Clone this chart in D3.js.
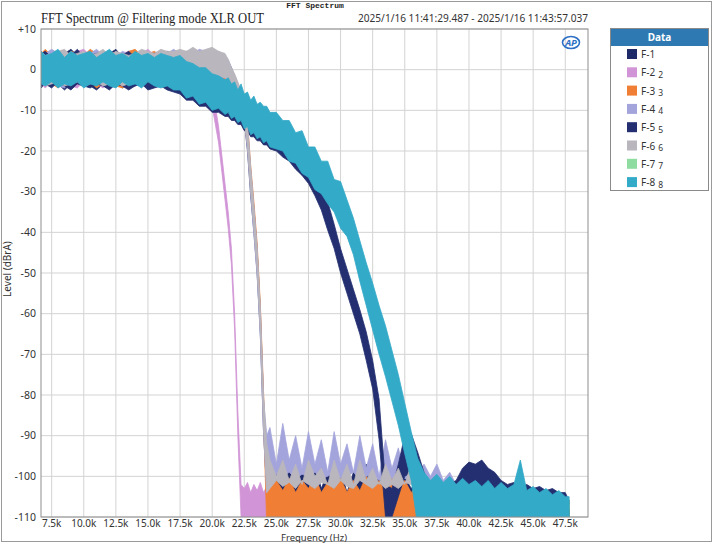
<!DOCTYPE html>
<meta charset="utf-8">
<script src="https://d3js.org/d3.v7.min.js"></script>
<style>
  body { margin: 0; background: #fff; }
  svg { display: block; font-family: "Noto Sans", "DejaVu Sans", sans-serif; }
</style>
<body>
<script>
// shared frequency grid, kHz
var freqKHz = [6.7,7,7.5,8,8.5,9,9.5,10,10.5,11,11.5,12,12.5,13,13.5,14,14.5,15,15.5,16,16.5,17,
  17.5,18,18.5,19,19.5,20,20.5,21,21.25,21.5,21.75,22,22.25,22.5,22.75,23,23.25,23.5,23.75,24,24.25,24.5,
  25,25.5,26,26.5,27,27.5,28,28.5,29,29.5,30,30.5,31,31.5,32,32.5,33,33.5,34,34.5,35,35.5,36,36.5,
  37,37.5,38,38.5,39,39.5,40,40.5,41,41.5,42,42.5,43,43.5,44,44.5,45,45.5,46,46.5,47,47.5,47.8];

// each trace is a noisy band: upper and lower edge in dBrA
var f1Hi = [3.5,4,4.5,3,4,5,3.5,4,3,4.5,3.5,4,5,3,4,3.5,4.5,4,3.5,4,4.5,4,
  4,4.5,3.5,4,4.5,4,3.5,3,2,0.5,-1.5,-3.5,-5.5,-7.5,-14,-25,-34,-44,-59,-81,-96,-98,
  -97,-102,-96,-103,-98,-101,-97,-103,-99,-102,-98,-104,-99,-101,-97,-103,-100,-104,-99,-102,-100,-103,-101,-104,
  -102,-104,-103,-105,-103,-104,-103,-105,-104,-103,-105,-104,-105,-104,-105,-106,-105,-106,-105,-106,-106,-107,-107];
var f1Lo = [-4.5,-3,-4,-3.5,-5,-3.5,-4,-3,-4,-5,-3.5,-4,-3,-4.5,-3.5,-4,-3,-4.5,-3.5,-3,-3.5,-3,
  -2,-2.5,-1.5,-2,-2.5,-2,-2.5,-2.5,-3,-4.5,-6.5,-8.5,-10.5,-12.5,-20,-31,-40,-50,-65,-89,-104,-105,
  -106,-105,-107,-105,-106,-108,-105,-106,-107,-105,-106,-108,-105,-106,-107,-106,-105,-108,-106,-107,-105,-106,-107,-108,
  -110,-110,-110,-110,-110,-110,-110,-110,-110,-110,-110,-110,-110,-110,-110,-110,-110,-110,-110,-110,-110,-110,-110];

var f2Hi = [4,3.5,4.5,3,4,3.5,4.5,5,3.5,4,3,4.5,3.5,4,4.5,3,4,5,3.5,4,3.5,4.5,
  3.5,4,3,2.5,1,-4,-14,-28,-35,-44,-60,-84,-102,-103,-101.5,-104,-102,-103.5,-101.5,-104,-102.5,-103,
  -103];
var f2Lo = [-3.5,-4.5,-3,-4,-3.5,-4,-4.5,-3,-4,-3.5,-4.5,-3,-4,-3.5,-3,-4,-3.5,-4,-3,-3.5,-3,-3.5,
  -2.5,-3,-2.5,-3,-4,-9,-18,-32,-39,-48,-64,-90,-110,-110,-110,-110,-110,-110,-110,-110,-110,-110,
  -110];

var f3Hi = [4,5,3.5,4,3,4.5,4,3.5,5,4,3,4.5,4,3.5,4.5,5,3.5,4,4.5,3.5,4,4.5,
  4.5,4,5,4.5,4,4.5,4,3,2,0,-2,-4,-6,-8,-12.5,-23.5,-32.5,-42.5,-57.5,-79,-101,-102,
  -101,-103.5,-100.5,-104,-101,-103,-100,-104,-101.5,-103,-100.5,-104,-101,-103.5,-100,-103,-101,-104,-100.5,-103,-101,-104,-102,-104,
  -102,-104,-102.5,-104,-103,-104.5,-103,-104,-103,-105,-103.5,-104.5,-103,-105,-104,-105,-104,-105.5,-104,-105,-104.5,-105.5,-106];
var f3Lo = [-3,-4,-3.5,-4.5,-3,-4,-3.5,-4,-3,-4.5,-3.5,-3,-4,-4.5,-3.5,-3,-4,-3,-2.5,-3,-2.5,-3,
  -1.5,-2,-1.5,-2,-1,-2,-2,-2.5,-3.5,-5,-7,-9,-11,-13,-18,-29,-38,-48,-63,-86,-112,-112,
  -112,-112,-112,-112,-112,-112,-112,-112,-112,-112,-112,-112,-112,-112,-112,-112,-112,-112,-112,-112,-112,-112,-112,-112,
  -112,-112,-112,-112,-112,-112,-112,-112,-112,-112,-112,-112,-112,-112,-112,-112,-112,-112,-112,-112,-112,-112,-112];

var f4Hi = [3.5,4,5,4,3.5,4,4.5,3,4,5,3.5,4,3,4.5,4,3.5,4,3,4,4.5,4,5,
  4,4.5,4,5,4.5,4,4.5,3.5,2.5,0.5,-1.5,-3.5,-5.5,-7.5,-13.5,-24.5,-34,-44,-59.5,-81,-90,-88,
  -97,-87,-96,-90,-98,-89,-97,-91,-99,-89,-97,-92,-99,-90,-98,-92,-100,-91,-98,-93,-100,-94,-99,-97,
  -100,-97,-101,-99,-102,-100,-102,-101,-103,-101,-103,-102,-104,-103,-104,-103,-105,-104,-105,-104,-106,-105,-106];
var f4Lo = [-4,-3.5,-3,-4,-4.5,-3,-3.5,-4,-3,-3.5,-4,-4.5,-3,-3.5,-4,-3,-3.5,-4,-3,-3.5,-2.5,-3,
  -2,-1.5,-2,-1.5,-2,-1.5,-2,-2,-3,-4.5,-6.5,-8.5,-10.5,-12.5,-19.5,-30.5,-40.5,-50.5,-65.5,-89,-104,-101,
  -99.5,-100,-99,-100.5,-99.5,-100,-99,-100.5,-100,-99,-100.5,-100,-99,-100.5,-100,-99.5,-101,-100,-100.5,-101,-100.5,-101,-101,-102,
  -106,-106,-106,-106,-106,-106,-106,-106,-106,-106,-106,-106,-106,-106,-106,-106,-106,-106,-106,-106,-106,-106,-106];

var f5Hi = [4,4.5,3,3.5,4,3.5,5,3,3.5,4,4.5,3,4,3.5,4.5,3,4,3.5,4,3,3.5,3.5,
  2,1.5,0.5,0,-1,-1.5,-2.5,-3,-3.5,-4,-4.5,-5.5,-5.5,-6.5,-7,-8,-8.5,-9,-9.5,-10,-10.5,-11.5,
  -13,-14,-15.5,-16.5,-18,-20,-23,-27.5,-32.5,-38,-44,-49,-54,-59,-64.5,-71.5,-81,-102,-103,-97,-90,-89.5,-94,-99,
  -103,-104,-103,-102,-101,-98,-96.5,-97,-96,-98,-99,-101,-102,-101.5,-102.5,-102,-103,-102.5,-103.5,-103,-104,-104,-106];
var f5Lo = [-4,-3.5,-4.5,-3,-4,-5,-3.5,-4,-4.5,-3.5,-4,-5,-3.5,-4,-5,-4,-3.5,-5,-4.5,-4,-5,-5.5,
  -6,-7.5,-7.5,-9,-9,-10.5,-10.5,-11.5,-11.5,-12.5,-12.5,-13.5,-13.5,-15,-15,-16.5,-16.5,-17.5,-17.5,-18.5,-18.5,-19.5,
  -20,-21.5,-22.5,-24.5,-26,-28,-31,-34.5,-39.5,-44,-50,-55,-60,-65,-71.5,-78.5,-91,-110,-110,-105,-100,-99,-103,-106,
  -109,-110,-110,-109,-108,-105,-103,-104,-103,-105,-106,-108,-109,-109,-110,-110,-110,-110,-110,-110,-110,-110,-110];

var f6Hi = [4.5,3.5,4,4.5,5,3.5,4,4.5,3.5,4,5,3.5,4.5,4,3.5,4,5,4.5,4,5,4.5,4.5,
  5,4.5,5.5,4.5,5,5.5,4.5,4,2.5,0.5,-1,-3,-5,-7,-13,-24,-33.5,-43.5,-58.5,-80,-92,-96,
  -100,-96,-101,-97,-102,-96,-100,-98,-102,-96,-101,-97,-102,-96,-101,-98,-102,-97,-101,-98,-102,-97,-102,-100,
  -101,-103,-102,-104,-102,-103,-103,-104,-103,-104,-104,-105,-104,-105,-104,-105,-105,-106,-105,-106,-106,-106,-107];
var f6Lo = [-3,-4,-3.5,-3,-4,-3.5,-3,-4,-3.5,-3,-4,-3.5,-3,-4,-3.5,-2.5,-3,-2.5,-2,-2.5,-2,-2,
  -1,-1.5,-1,-1.5,-1,-1.5,-1.5,-2,-3,-4.5,-6.5,-8.5,-10.5,-12.5,-19,-30,-39.5,-49.5,-64.5,-88,-104,-103,
  -101,-102.5,-101.5,-103,-101,-102,-103,-101.5,-102,-103,-101,-102.5,-103,-101,-102,-103,-101.5,-103,-102,-103,-101.5,-102,-103,-103,
  -108,-108,-108,-108,-108,-108,-108,-108,-108,-108,-108,-108,-108,-108,-108,-108,-108,-108,-108,-108,-108,-108,-108];

var f7Hi = [3,3,3,3.5,2.5,3,3,3,3.5,2.5,3,3.5,3,3,2.5,3,3,3,2.5,3,3,2.5,
  2,1.5,0.5,0,-1,-1.5,-2.5,-3,-3.5,-4,-4.5,-5,-5.5,-6.5,-7,-8,-8.5,-9,-9.5,-10,-10.5,-11,
  -12,-13.5,-14.5,-16,-17.5,-19.5,-21.5,-23,-25,-27.5,-30,-33,-38,-44,-50,-55,-61,-66,-72,-78,-85,-92,-99,-102,
  -103,-104,-103,-104,-103,-104,-104,-104,-104,-104,-105,-104,-105,-104,-105,-105,-105,-106,-105,-106,-106,-106,-106];
var f7Lo = [-3,-3,-2.5,-3.5,-3,-3,-2.5,-3.5,-3,-3,-2.5,-3,-3.5,-2.5,-3,-3,-3.5,-2.5,-3,-3.5,-3,-4,
  -4.5,-5.5,-6,-7,-7.5,-8.5,-9,-9.5,-10,-10.5,-11,-11.5,-12,-13,-13.5,-14.5,-15,-15.5,-16,-16.5,-17,-17.5,
  -18,-19.5,-20.5,-22,-23.5,-25.5,-27.5,-29,-31,-33.5,-36,-39,-44,-50,-56,-62,-67,-72,-78,-84,-91,-98,-105,-108,
  -110,-110,-110,-110,-110,-110,-110,-110,-110,-110,-110,-110,-110,-110,-110,-110,-110,-110,-110,-110,-110,-110,-110];

var f8Hi = [4.5,3.5,4,5,3,4.5,3.5,4,4.5,3,4,5,3.5,4,3,4.5,3.5,4,3,4,3.5,3,
  3.5,2,1.5,0.5,0.5,-1,-1.5,-2.5,-2,-3.5,-3,-5,-3.5,-6,-5.5,-7.5,-6.5,-8.5,-8,-9,-9,-10.5,
  -10.5,-12.5,-12.5,-15.5,-15,-19,-19,-22.5,-22.5,-27,-27.5,-32,-36.5,-42,-47.5,-52.5,-58,-63,-69,-75,-82,-89,-95.5,-99,
  -101,-99.5,-101.5,-100,-102,-100.5,-102,-101,-102.5,-101,-103,-101.5,-103,-102,-96,-103.5,-102.5,-104,-103,-104.5,-103.5,-105,-105];
var f8Lo = [-3.5,-4,-3,-4.5,-3.5,-4,-3,-4.5,-3.5,-4,-3,-4,-4.5,-3,-4,-3.5,-4.5,-3,-4,-4.5,-4,-5,
  -5,-7,-6.5,-8.5,-8,-10,-9.5,-11,-10.5,-12,-11.5,-13,-12.5,-14.5,-14,-16,-15.5,-17,-16.5,-18,-17.5,-19,
  -19.5,-20,-22.5,-23,-25.5,-26.5,-29.5,-30.5,-33,-35,-39,-41,-45.5,-52,-58,-64,-70,-75.5,-81.5,-87.5,-94.5,-101,-112,-112,
  -112,-112,-112,-112,-112,-112,-112,-112,-112,-112,-112,-112,-112,-112,-112,-112,-112,-112,-112,-112,-112,-112,-112];

var seriesNames = ["F-1", "F-2", "F-3", "F-4", "F-5", "F-6", "F-7", "F-8"];
var seriesTags = ["", "2", "3", "4", "5", "6", "7", "8"];
var seriesColors = ["#1f2b69", "#d194d6", "#f07f35", "#a3a4dc", "#232f70", "#bab6bd", "#8fdca0", "#33aac8"];
var xTicks = [7.5, 10, 12.5, 15, 17.5, 20, 22.5, 25, 27.5, 30, 32.5, 35, 37.5, 40, 42.5, 45, 47.5];
var yTicks = [10, 0, -10, -20, -30, -40, -50, -60, -70, -80, -90, -100, -110];

var bands = [[f1Hi, f1Lo], [f2Hi, f2Lo], [f3Hi, f3Lo], [f4Hi, f4Lo],
             [f5Hi, f5Lo], [f6Hi, f6Lo], [f7Hi, f7Lo], [f8Hi, f8Lo]];

var W = 713, H = 544;
var L = 41, R = 588, T = 29, B = 517;

var svg = d3.select("body").append("svg")
  .attr("width", W)
  .attr("height", H);

// outer frame
svg.append("rect")
  .attr("x", 1.5).attr("y", 1.5)
  .attr("width", 710).attr("height", 540)
  .attr("fill", "#fff")
  .attr("stroke", "#9a9a9a");

var x = d3.scaleLinear().domain([6.67, 49.27]).range([L, R]);
var y = d3.scaleLinear().domain([-110, 10]).range([B, T]);

// grid
svg.append("g").selectAll("line")
  .data(xTicks).enter().append("line")
  .attr("x1", d => x(d)).attr("x2", d => x(d))
  .attr("y1", T).attr("y2", B)
  .attr("stroke", "#d3d3d3");
svg.append("g").selectAll("line")
  .data(yTicks).enter().append("line")
  .attr("x1", L).attr("x2", R)
  .attr("y1", d => y(d)).attr("y2", d => y(d))
  .attr("stroke", "#d3d3d3");

svg.append("clipPath").attr("id", "clip")
  .append("rect").attr("x", L).attr("y", T).attr("width", R - L).attr("height", B - T);

var area = d3.area()
  .defined(d => d.hi != null)
  .x(d => x(d.f))
  .y0(d => y(d.lo))
  .y1(d => y(d.hi));

var traces = svg.append("g").attr("clip-path", "url(#clip)");
bands.forEach(function(b, i) {
  var pts = freqKHz.map(function(f, k) {
    return { f: f, hi: b[0][k] == null ? null : b[0][k], lo: b[1][k] };
  });
  traces.append("path")
    .datum(pts)
    .attr("d", area)
    .attr("fill", seriesColors[i])
    .attr("stroke", seriesColors[i])
    .attr("stroke-width", 0.8)
    .attr("stroke-linejoin", "round");
});

// plot frame
svg.append("rect")
  .attr("x", L).attr("y", T)
  .attr("width", R - L).attr("height", B - T)
  .attr("fill", "none")
  .attr("stroke", "#8e8e8e");

// tick labels
svg.append("g").selectAll("text")
  .data(xTicks).enter().append("text")
  .attr("x", d => x(d)).attr("y", 527)
  .attr("text-anchor", "middle")
  .style("font-size", "10px").attr("fill", "#333")
  .text(d => d3.format(".1f")(d) + "k");
svg.append("g").selectAll("text")
  .data(yTicks).enter().append("text")
  .attr("x", 36).attr("y", d => y(d) + 3.5)
  .attr("text-anchor", "end")
  .style("font-size", "10.5px").attr("fill", "#333")
  .text(d => d > 0 ? "+" + d : String(d));

svg.append("text")
  .attr("x", 314).attr("y", 540.5)
  .attr("text-anchor", "middle")
  .style("font-size", "9.5px").attr("fill", "#333")
  .text("Frequency (Hz)");
svg.append("text")
  .attr("transform", "translate(11,269) rotate(-90)")
  .attr("text-anchor", "middle")
  .style("font-size", "10px").attr("fill", "#333")
  .text("Level (dBrA)");

// titles
svg.append("text")
  .attr("x", 315).attr("y", 8)
  .attr("text-anchor", "middle")
  .style("font-family", "'Liberation Mono', 'DejaVu Sans Mono', monospace")
  .style("font-size", "8px").style("font-weight", "bold").attr("fill", "#222")
  .text("FFT Spectrum");
svg.append("text")
  .attr("x", 41).attr("y", 23)
  .attr("textLength", 223).attr("lengthAdjust", "spacingAndGlyphs")
  .style("font-family", "'Liberation Serif', 'DejaVu Serif', serif")
  .style("font-size", "14px").attr("fill", "#222")
  .text("FFT Spectrum @ Filtering mode XLR OUT");
svg.append("text")
  .attr("x", 588).attr("y", 22)
  .attr("text-anchor", "end")
  .attr("textLength", 230).attr("lengthAdjust", "spacingAndGlyphs")
  .style("font-size", "10.5px").attr("fill", "#333")
  .text("2025/1/16 11:41:29.487 - 2025/1/16 11:43:57.037");

// AP mark
var logo = svg.append("g").attr("transform", "translate(571,42.5)");
logo.append("ellipse").attr("rx", 8.5).attr("ry", 6)
  .attr("fill", "none").attr("stroke", "#2c6fc4").attr("stroke-width", 1.6);
logo.append("text").attr("x", 0).attr("y", 3.5)
  .attr("text-anchor", "middle")
  .style("font-size", "9.5px").style("font-weight", "bold").style("font-style", "italic")
  .attr("fill", "#2c6fc4").text("AP");

// legend
var lg = svg.append("g");
lg.append("rect")
  .attr("x", 610.5).attr("y", 28.5).attr("width", 98).attr("height", 162)
  .attr("fill", "#fff").attr("stroke", "#8a8a8a");
lg.append("rect")
  .attr("x", 611).attr("y", 29).attr("width", 97).attr("height", 17)
  .attr("fill", "#2f79b2");
lg.append("text")
  .attr("x", 659.5).attr("y", 41)
  .attr("text-anchor", "middle")
  .style("font-size", "10px").style("font-weight", "bold").attr("fill", "#fff")
  .text("Data");
var items = lg.selectAll("g.item")
  .data(seriesNames).enter().append("g")
  .attr("class", "item")
  .attr("transform", (d, i) => "translate(627," + (54 + i * 18.3) + ")");
items.append("rect")
  .attr("x", 0).attr("y", -5).attr("width", 10).attr("height", 10)
  .attr("fill", (d, i) => seriesColors[i]);
var lt = items.append("text")
  .attr("x", 14).attr("y", 4)
  .style("font-size", "10px").attr("fill", "#333");
lt.append("tspan").text(d => d);
lt.append("tspan")
  .attr("dx", 3).attr("dy", 1.5)
  .style("font-size", "8.5px")
  .text((d, i) => seriesTags[i]);
</script>
</body>
